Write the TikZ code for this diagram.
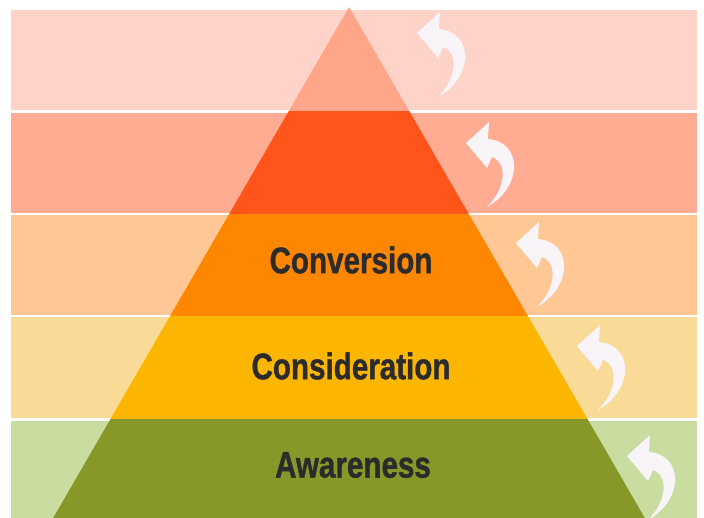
\documentclass[tikz,border=0pt]{standalone}
\usepackage{fontspec}
\setmainfont{Liberation Sans}[BoldFeatures={FakeBold=1.2}]
\definecolor{bandA}{HTML}{FFD3C8}
\definecolor{bandB}{HTML}{FFAC92}
\definecolor{bandC}{HTML}{FFC794}
\definecolor{bandD}{HTML}{FADA97}
\definecolor{bandE}{HTML}{CADDA0}
\definecolor{triA}{HTML}{FFA68A}
\definecolor{triB}{HTML}{FF541A}
\definecolor{triC}{HTML}{FF8700}
\definecolor{triD}{HTML}{FDB600}
\definecolor{triE}{HTML}{879829}
\definecolor{curlwhite}{HTML}{F8F4F8}
\definecolor{labelgray}{HTML}{2B2B2B}
\begin{document}
\begin{tikzpicture}[x=1pt,y=-1pt,
  tier/.style={font=\fontsize{37}{40}\selectfont\bfseries, text=labelgray, inner sep=0pt},
  curlarrow/.pic={
    \fill[curlwhite] (23,0) -- (0,21) -- (21,46) -- (26,35)
      .. controls (41,40) and (41,65) .. (21,85)
      .. controls (57,65) and (57,20) .. (22,17) -- cycle;
  }]
\useasboundingbox (0,0) rectangle (704,518);
\fill[white] (0,0) rectangle (704,518);

% background bands
\fill[bandA] (11,10) rectangle (697,110.2);
\fill[bandB] (11,112.6) rectangle (697,212.8);
\fill[bandC] (11,215) rectangle (697,315);
\fill[bandD] (11,317) rectangle (697,418);
\fill[bandE] (11,420.5) rectangle (697,518);

% pyramid, coloured tier by tier
\begin{scope}
  \clip (349,7) -- (52,520) -- (646,520) -- cycle;
  \fill[triA] (0,0) rectangle (704,111.4);
  \fill[triB] (0,111.4) rectangle (704,214);
  \fill[triC] (0,214) rectangle (704,316);
  \fill[triD] (0,316) rectangle (704,419.2);
  \fill[triE] (0,419.2) rectangle (704,520);
\end{scope}

% tier labels
\node[tier] (conv) at (351,260) {\scalebox{0.8}[1]{Conversion}};
\node[tier] (cons) at (351,366) {\scalebox{0.8}[1]{Consideration}};
\node[tier] (aware) at (353,465) {\scalebox{0.8}[1]{Awareness}};

% curved return arrows
\pic at (417,12) {curlarrow};
\pic at (466,122) {curlarrow};
\pic at (516,222) {curlarrow};
\pic at (577,325) {curlarrow};
\pic at (627,435) {curlarrow};
\end{tikzpicture}
\end{document}
